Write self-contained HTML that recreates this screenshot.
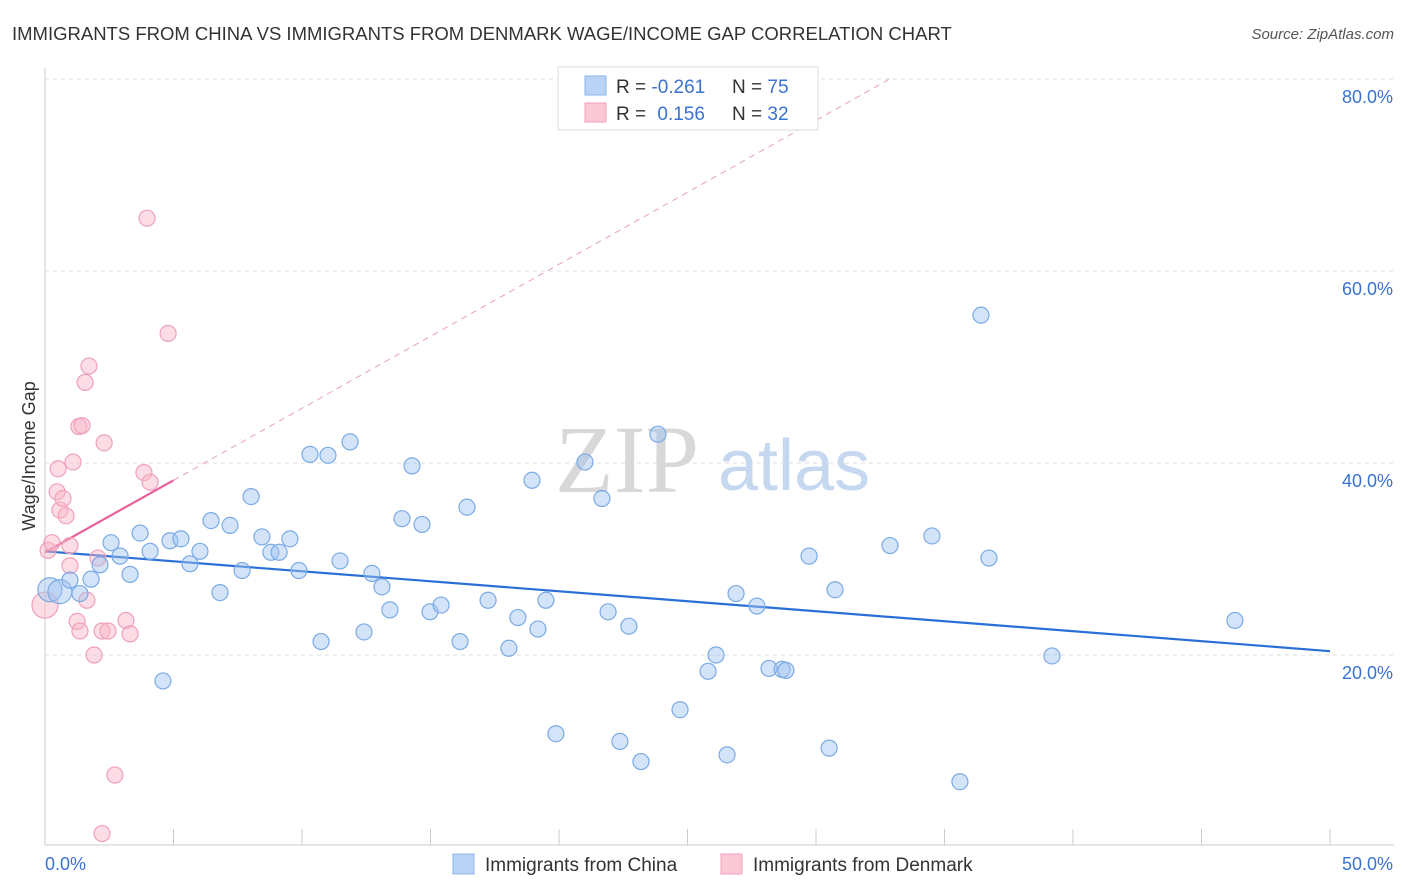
<!DOCTYPE html>
<html><head><meta charset="utf-8">
<style>
body{margin:0;background:#fff;font-family:"Liberation Sans",sans-serif;}
#wrap{position:relative;width:1406px;height:892px;overflow:hidden;}
</style></head>
<body>
<div id="wrap">
<svg id="chart" width="1406" height="892" xmlns="http://www.w3.org/2000/svg">
<text x="12" y="40" font-size="18.5" fill="#333">IMMIGRANTS FROM CHINA VS IMMIGRANTS FROM DENMARK WAGE/INCOME GAP CORRELATION CHART</text>
<text x="1394" y="39" font-size="15" fill="#555" text-anchor="end" font-style="italic">Source: ZipAtlas.com</text>
<text x="35" y="456" font-size="18" fill="#333" text-anchor="middle" transform="rotate(-90 35 456)">Wage/Income Gap</text>
<g id="grid"></g>
<g>
<text x="555" y="492" font-size="96" font-family="Liberation Serif,serif" fill="#d8d8d8">ZIP</text>
<text x="718" y="490" font-size="72" fill="#c5d8f0">atlas</text>
</g>
<g id="trends"></g>
<g id="points"></g>
<g>
<rect x="558" y="67" width="260" height="63" fill="#fff" stroke="#ddd"/>
<rect x="585" y="76" width="21" height="19" fill="#b9d3f5" stroke="#8ab4e8"/>
<rect x="585" y="103" width="21" height="19" fill="#fbc8d6" stroke="#f0a0b8"/>
<text x="616" y="93" font-size="19" fill="#333">R = <tspan fill="#3a72d0">-0.261</tspan></text>
<text x="732" y="93" font-size="19" fill="#333">N = <tspan fill="#3a72d0">75</tspan></text>
<text x="616" y="120" font-size="19" fill="#333">R =  <tspan fill="#3a72d0" dx="6">0.156</tspan></text>
<text x="732" y="120" font-size="19" fill="#333">N = <tspan fill="#3a72d0">32</tspan></text>
</g>
<g>
<rect x="453" y="854" width="21" height="20" fill="#b9d3f5" stroke="#8ab4e8"/>
<text x="485" y="871" font-size="19" fill="#333">Immigrants from China</text>
<rect x="721" y="854" width="21" height="20" fill="#fbc8d6" stroke="#f0a0b8"/>
<text x="753" y="871" font-size="19" fill="#333">Immigrants from Denmark</text>
</g>
</svg>
</div>
<script>
const chinaX=[0.19,0.58,0.97,1.36,1.79,2.14,2.57,2.92,3.31,3.70,4.09,4.59,4.86,5.29,5.64,6.03,6.46,6.81,7.20,7.67,8.02,8.44,8.79,9.11,9.53,9.88,10.31,10.74,11.01,11.48,11.87,12.41,12.72,13.11,13.42,13.89,14.28,14.67,14.98,15.41,16.15,16.42,17.24,18.05,18.40,18.95,19.18,19.49,19.88,21.01,21.67,21.91,22.37,22.72,23.19,23.85,24.71,25.80,26.11,26.54,26.89,27.70,28.17,28.68,28.83,29.73,30.51,30.74,32.88,34.51,35.60,36.42,36.73,39.18,46.30];
const chinaY=[26.8,26.6,27.8,26.4,27.9,29.4,31.7,30.3,28.4,32.7,30.8,17.3,31.9,32.1,29.5,30.8,34.0,26.5,33.5,28.8,36.5,32.3,30.7,30.7,32.1,28.8,40.9,21.4,40.8,29.8,42.2,22.4,28.5,27.1,24.7,34.2,39.7,33.6,24.5,25.2,21.4,35.4,25.7,20.7,23.9,38.2,22.7,25.7,11.8,40.1,36.3,24.5,11.0,23.0,8.9,43.0,14.3,18.3,20.0,9.6,26.4,25.1,18.6,18.5,18.4,30.3,10.3,26.8,31.4,32.4,6.8,55.4,30.1,19.9,23.6];
const denmarkX=[0.0,0.12,0.27,0.47,0.51,0.58,0.70,0.82,0.97,0.97,1.09,1.25,1.32,1.36,1.44,1.56,1.63,1.71,1.91,2.06,2.22,2.30,2.45,2.72,3.15,3.31,3.85,4.09,3.97,4.79,2.22];
const denmarkY=[25.2,30.9,31.7,37.0,39.4,35.1,36.3,34.5,31.4,29.3,40.1,23.5,43.8,22.5,43.9,48.4,25.7,50.1,20.0,30.1,22.5,42.1,22.5,7.5,23.6,22.2,39.0,38.0,65.5,53.5,1.4];
const yTicks=[20,40,60,80];
const yTickLabels=["20.0%","40.0%","60.0%","80.0%"];
const xTicks=[0,5,10,15,20,25,30,35,40,45,50];
const chinaTrend=[30.8,20.4];
const denmarkTrend=[30.7,1.5];
const X0=45,X1=1330,Y0=847,YSC=9.6;
const sx=v=>X0+v/50*(X1-X0);
const sy=v=>Y0-v*YSC;
const NS="http://www.w3.org/2000/svg";
function mk(t,a,p){const e=document.createElementNS(NS,t);for(const k in a)e.setAttribute(k,a[k]);p.appendChild(e);return e;}
const grid=document.getElementById('grid');
yTicks.forEach((v,i)=>{
 const l=mk('line',{x1:X0,x2:1394,y1:sy(v),y2:sy(v),stroke:'#ddd','stroke-dasharray':'4,4'},grid);
 
 
 const t=mk('text',{x:1393,y:sy(v)+24,'font-size':18,fill:'#3a72d0','text-anchor':'end'},grid);
 t.textContent=yTickLabels[i];
 
 
});
const ax=mk('line',{x1:X0,x2:1394,y1:845,y2:845,stroke:'#ccc'},grid);


const ay=mk('line',{x1:X0,x2:X0,y1:68,y2:845,stroke:'#ccc'},grid);


xTicks.forEach(v=>{
 const l=mk('line',{x1:sx(v),x2:sx(v),y1:829,y2:845,stroke:'#ccc'},grid);
 
 
});
const xl0=mk('text',{x:45,y:870,'font-size':18,fill:'#3a72d0'},grid);xl0.textContent='0.0%';


const xl1=mk('text',{x:1393,y:870,'font-size':18,fill:'#3a72d0','text-anchor':'end'},grid);xl1.textContent='50.0%';


const tr=document.getElementById('trends');
const bt=mk('line',{x1:sx(0),y1:sy(chinaTrend[0]),x2:sx(50),y2:sy(chinaTrend[1]),stroke:'#2a6fd6','stroke-width':2.2},tr);


const xe=(80-denmarkTrend[0])/denmarkTrend[1];
const pd=mk('line',{x1:sx(5),y1:sy(denmarkTrend[0]+5*denmarkTrend[1]),x2:sx(xe),y2:sy(80),stroke:'#e8a0b8','stroke-width':1,'stroke-dasharray':'6,5'},tr);


const ps=mk('line',{x1:sx(0),y1:sy(denmarkTrend[0]),x2:sx(5),y2:sy(denmarkTrend[0]+5*denmarkTrend[1]),stroke:'#e8609a','stroke-width':2.2},tr);


const pts=document.getElementById('points');
denmarkX.forEach((x,i)=>{
 const c=mk('circle',{cx:sx(x),cy:sy(denmarkY[i]),r:i===0?13:8,fill:'rgba(248,180,200,0.45)',stroke:'#f0a0b8','stroke-width':1.2},pts);
 
 
});
chinaX.forEach((x,i)=>{
 const c=mk('circle',{cx:sx(x),cy:sy(chinaY[i]),r:i<2?12:8,fill:'rgba(160,195,240,0.45)',stroke:'#7aaae6','stroke-width':1.2},pts);
 
 
});
</script>
</body></html>
